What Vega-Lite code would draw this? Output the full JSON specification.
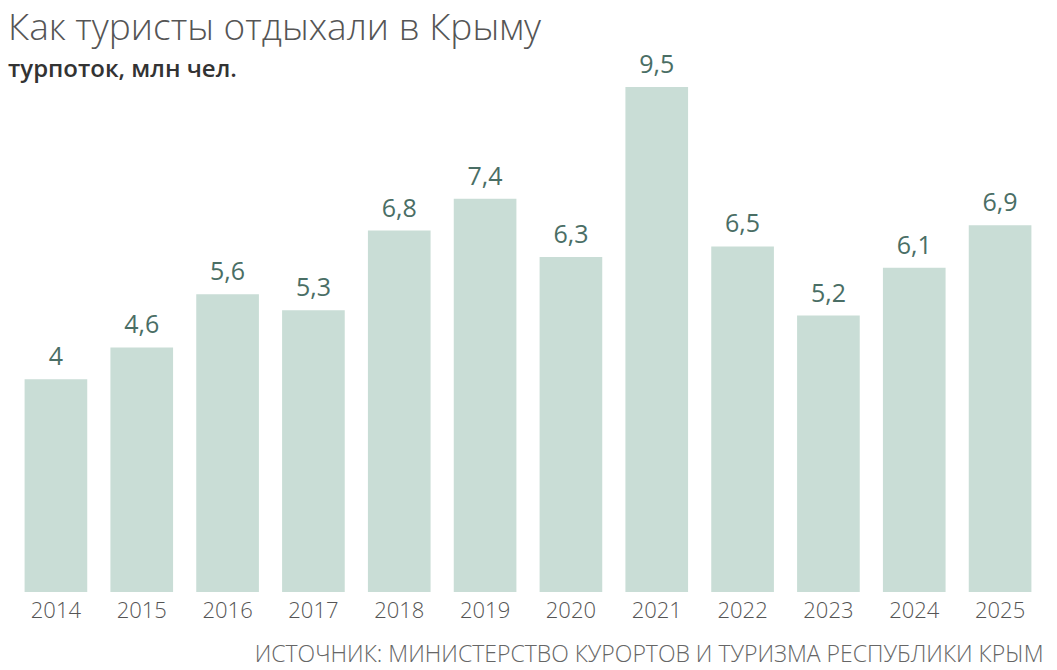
{
  "$schema": "https://vega.github.io/schema/vega-lite/v6.json",
  "autosize": {"type": "none"},
  "width": 1030,
  "height": 505,
  "padding": {"left": 13, "top": 87, "right": 14, "bottom": 78},
  "background": "white",
  "title": {
    "text": "Как туристы отдыхали в Крыму",
    "subtitle": "турпоток, млн чел.",
    "anchor": "start",
    "frame": "group",
    "dx": -5,
    "offset": -30,
    "font": "Open Sans",
    "fontSize": 37,
    "fontWeight": 300,
    "color": "#555555",
    "subtitleFont": "Open Sans",
    "subtitleFontSize": 24,
    "subtitleFontWeight": 600,
    "subtitleColor": "#333333",
    "subtitlePadding": 10
  },
  "data": {
    "values": [
      {"year": "2014", "value": 4},
      {"year": "2015", "value": 4.6},
      {"year": "2016", "value": 5.6},
      {"year": "2017", "value": 5.3},
      {"year": "2018", "value": 6.8},
      {"year": "2019", "value": 7.4},
      {"year": "2020", "value": 6.3},
      {"year": "2021", "value": 9.5},
      {"year": "2022", "value": 6.5},
      {"year": "2023", "value": 5.2},
      {"year": "2024", "value": 6.1},
      {"year": "2025", "value": 6.9}
    ]
  },
  "encoding": {
    "x": {
      "field": "year",
      "type": "ordinal",
      "scale": {"paddingInner": 0.27, "paddingOuter": 0.135},
      "axis": {
        "title": "ИСТОЧНИК: МИНИСТЕРСТВО КУРОРТОВ И ТУРИЗМА РЕСПУБЛИКИ КРЫМ",
        "titleAnchor": "end",
        "titleAlign": "right",
        "titleFont": "Open Sans",
        "titleFontSize": 23,
        "titleFontWeight": 300,
        "titleColor": "#666666",
        "titlePadding": 22,
        "labelAngle": 0,
        "labelFont": "Open Sans",
        "labelFontSize": 22,
        "labelFontWeight": 300,
        "labelColor": "#555555",
        "labelPadding": 8,
        "domain": false,
        "ticks": false
      }
    },
    "y": {
      "field": "value",
      "type": "quantitative",
      "scale": {"domain": [0, 9.5], "nice": false},
      "axis": null
    }
  },
  "layer": [
    {"mark": {"type": "bar", "color": "#c9ddd6"}},
    {
      "mark": {"type": "text", "baseline": "alphabetic", "dy": -14, "font": "Open Sans", "fontSize": 25, "color": "#4a6e65"},
      "encoding": {"text": {"field": "value", "type": "quantitative", "format": "~g"}}
    }
  ],
  "config": {
    "view": {"stroke": null},
    "locale": {"number": {"decimal": ",", "thousands": " ", "grouping": [3], "currency": ["", ""]}}
  }
}
